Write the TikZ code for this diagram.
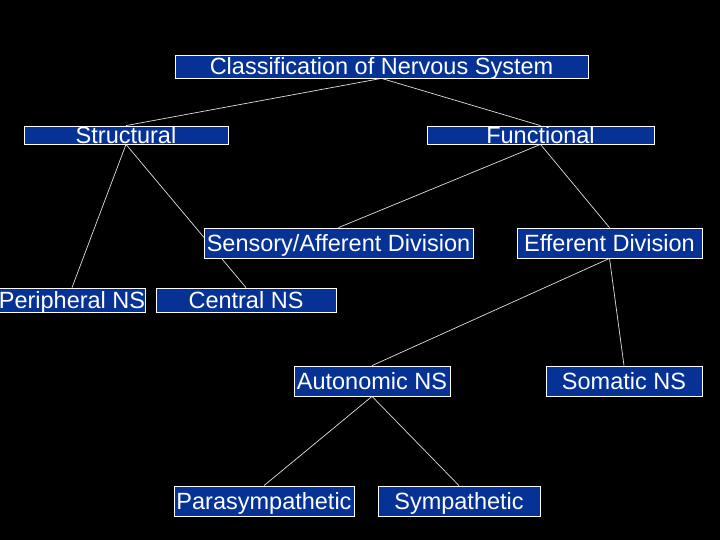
\documentclass[tikz,border=0pt]{standalone}
\usepackage{fontspec}
\setmainfont{Liberation Sans}
\usetikzlibrary{backgrounds}
\definecolor{boxblue}{RGB}{6,50,150}
\tikzset{
  box/.style={draw=white, fill=boxblue, text=white, line width=0.8pt,
    font=\fontsize{23.5}{24}\selectfont, inner sep=0pt,
    text height=17pt, text depth=0pt},
  link/.style={draw=white!88!black, line width=0.7pt}
}
\begin{document}
\begin{tikzpicture}[x=1pt, y=-1pt]
			\useasboundingbox (0, 0) rectangle (720, 540);
			% Boxes:
			\node[box, minimum width=413, minimum height=23] (nervous) at (381.5, 66.5) {Classification of Nervous System};
			\node[box, minimum width=204, minimum height=18] (structural) at (126, 135) {Structural};
			\node[box, minimum width=227, minimum height=18] (functional) at (540.5, 135) {Functional};
			\node[box, minimum width=269, minimum height=30] (sensory) at (338.5, 243) {Sensory/Afferent Division};
			\node[box, minimum width=185, minimum height=30] (efferent) at (609.5, 243) {Efferent Division};
			\node[box, minimum width=146, minimum height=24] (peripheral) at (72, 300) {Peripheral NS};
			\node[box, minimum width=180, minimum height=24] (central) at (246, 300) {Central NS};
			\node[box, minimum width=156, minimum height=30] (autonomic) at (372, 381) {Autonomic NS};
			\node[box, minimum width=156, minimum height=30] (somatic) at (624, 381) {Somatic NS};
			\node[box, minimum width=180, minimum height=30] (parasym) at (264, 501) {Parasympathetic};
			\node[box, minimum width=162, minimum height=30] (sym) at (459, 501) {Sympathetic};
			% Links:
			\begin{scope}[on background layer]
				\fill[black] (0, 0) rectangle (720, 540);
				\draw[link] (nervous.south) -- (structural.north);
				\draw[link] (nervous.south) -- (functional.north);
				\draw[link] (structural.south) -- (peripheral.north);
				\draw[link] (structural.south) -- (central.north);
				\draw[link] (functional.south) -- (sensory.north);
				\draw[link] (functional.south) -- (efferent.north);
				\draw[link] (efferent.south) -- (autonomic.north);
				\draw[link] (efferent.south) -- (somatic.north);
				\draw[link] (autonomic.south) -- (parasym.north);
				\draw[link] (autonomic.south) -- (sym.north);
			\end{scope}
		\end{tikzpicture}
\end{document}
